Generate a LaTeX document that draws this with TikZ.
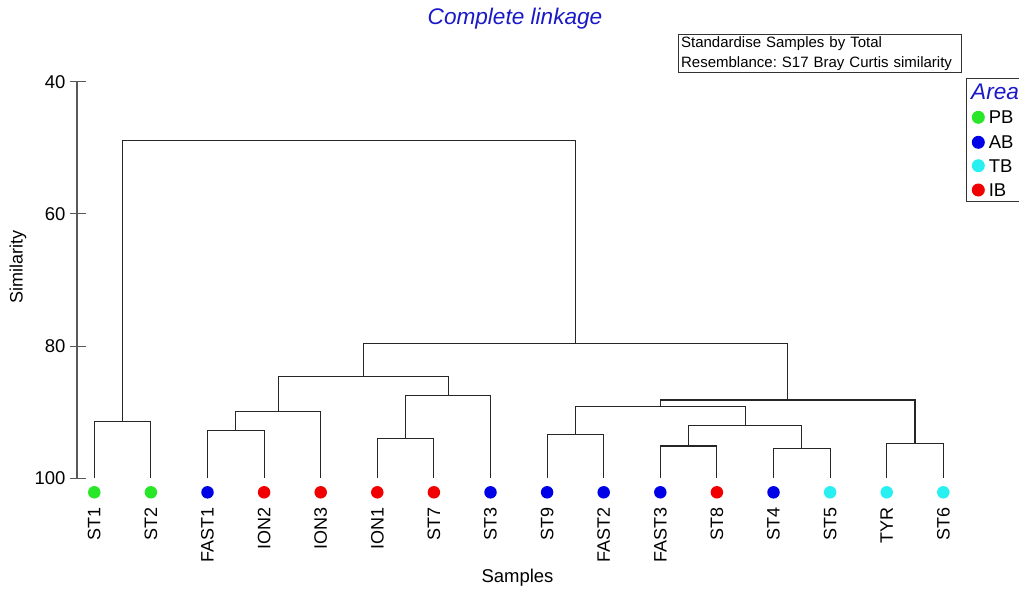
\documentclass[tikz,border=0pt]{standalone}
\usepackage{fontspec}
\setmainfont{Liberation Sans}
\frenchspacing
\usetikzlibrary{calc}
\definecolor{pbgreen}{RGB}{40,230,40}
\definecolor{abblue}{RGB}{0,0,230}
\definecolor{tbcyan}{RGB}{40,240,240}
\definecolor{ibred}{RGB}{240,0,0}
\definecolor{titleblue}{RGB}{25,25,200}
\tikzset{every picture/.style={line width=1pt}}
\tikzset{
  leaf/.style={circle,fill=#1,inner sep=0pt,minimum size=12.5pt},
  lab/.style={rotate=90,anchor=east,inner sep=0pt,font=\fontsize{18}{20}\selectfont},
  link/.style={draw=black!85,line width=1.1pt},
  axis/.style={draw=black!65,line width=1.1pt},
}
\newcommand{\simy}[1]{81.7+(#1-40)*6.61}
\newcommand{\mergept}[4]{\path let \p1=(#2),\p2=(#3) in ({(\x1+\x2)/2},{\simy{#4}}) coordinate (#1);}

\begin{document}
\begin{tikzpicture}[x=1pt,y=-1pt]
\useasboundingbox (0,0) rectangle (1019,594);
\node[font=\fontsize{22.6}{26}\selectfont\itshape,text=titleblue] (title) at (515,18.5) {Complete linkage}; %タイトル
\draw[axis] (77,{\simy{40}}) -- (77,{\simy{100}}); %縦軸
\foreach \s in {40,60,80,100}{
  \draw[axis] (70,{\simy{\s}}) -- (86,{\simy{\s}});
  \node[anchor=east,inner sep=0pt,font=\fontsize{18.5}{20}\selectfont] (tk\s) at (66,{\simy{\s}}) {\s};
} %目盛
\node[rotate=90,font=\fontsize{18}{20}\selectfont] (ylab) at (18,267) {Similarity};
\node[font=\fontsize{18.5}{20}\selectfont] (xlab) at (517.5,578) {Samples};
\foreach \n/\c [count=\i from 0] in {ST1/pbgreen,ST2/pbgreen,FAST1/abblue,ION2/ibred,ION3/ibred,ION1/ibred,ST7/ibred,ST3/abblue,ST9/abblue,FAST2/abblue,FAST3/abblue,ST8/ibred,ST4/abblue,ST5/tbcyan,TYR/tbcyan,ST6/tbcyan}{
  \coordinate (\n) at ({94.3+56.6*\i},{\simy{100}});
  \node[leaf=\c] (d\n) at ({94.3+56.6*\i},492.3) {};
  \node[lab] (t\n) at ({94.3+56.6*\i},506.5) {\n};
} %サンプル
\mergept{ja}{ST1}{ST2}{91.44}
\mergept{jb}{FAST1}{ION2}{92.74}
\mergept{jc}{jb}{ION3}{89.92}
\mergept{jd}{ION1}{ST7}{94.01}
\mergept{je}{jd}{ST3}{87.50}
\mergept{jf}{jc}{je}{84.63}
\mergept{jg}{ST9}{FAST2}{93.34}
\mergept{jh}{FAST3}{ST8}{95.11}
\mergept{ji}{ST4}{ST5}{95.52}
\mergept{jj}{jh}{ji}{92.04}
\mergept{jk}{jg}{jj}{89.17}
\mergept{jl}{TYR}{ST6}{94.77}
\mergept{jm}{jk}{jl}{88.15}
\mergept{jn}{jf}{jm}{79.58}
\mergept{jo}{ja}{jn}{48.93}
\foreach \j/\a/\b in {ja/ST1/ST2,jb/FAST1/ION2,jc/jb/ION3,jd/ION1/ST7,je/jd/ST3,jf/jc/je,jg/ST9/FAST2,jh/FAST3/ST8,ji/ST4/ST5,jj/jh/ji,jk/jg/jj,jl/TYR/ST6,jm/jk/jl,jn/jf/jm,jo/ja/jn}
  \draw[link] (\a) |- (\j) -| (\b); %樹形図
\node[draw=black!80,line width=0.8pt,anchor=north west,align=left,inner xsep=3pt,inner ysep=0pt,minimum height=38pt,text width=277pt,font=\fontsize{15}{19.7}\selectfont] (info) at (677.7,34.3) {Standardise Samples by Total\\Resemblance: S17 Bray Curtis similarity};
\draw[black!80,line width=0.8pt] (1019,78.3) -- (966.7,78.3) -- (966.7,201) -- (1019,201); %凡例
\node[anchor=west,inner sep=0pt,font=\fontsize{22.6}{26}\selectfont\itshape,text=titleblue] (area) at (970.7,91.7) {Area};
\foreach \g/\c/\yy in {PB/pbgreen/117.3,AB/abblue/142.3,TB/tbcyan/165.7,IB/ibred/190}{
  \node[leaf=\c,minimum size=13pt] (k\g) at (978.3,\yy) {};
  \node[anchor=west,inner sep=0pt,font=\fontsize{18.5}{20}\selectfont] (n\g) at (988.3,\yy) {\g};
}
\end{tikzpicture}
\end{document}
